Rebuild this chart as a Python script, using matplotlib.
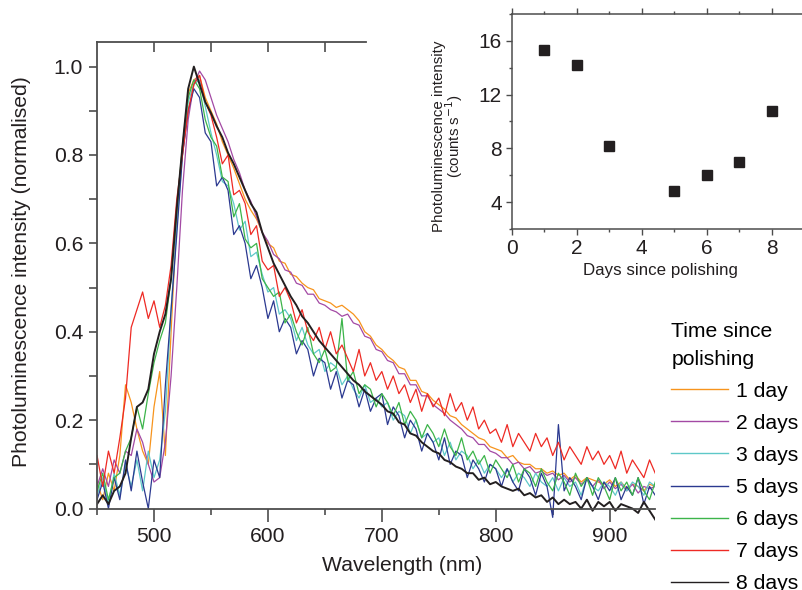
import numpy as np
import matplotlib.pyplot as plt
from matplotlib import font_manager
from matplotlib.ticker import MultipleLocator, FormatStrFormatter

# Longitudes de onda (nm), cada 5 nm
longitudes = np.arange(450, 945, 5)

# Espectros normalizados (450-940 nm), con su ruido aproximado
dia_1 = [0.06, 0.02, 0.08, 0.04, 0.12, 0.28, 0.24, 0.18, 0.13, 0.10,
         0.23, 0.31, 0.12, 0.40, 0.66, 0.82, 0.94, 0.97, 0.98, 0.93,
         0.90, 0.87, 0.83, 0.80, 0.77, 0.735, 0.70, 0.675, 0.655, 0.625,
         0.60, 0.59, 0.56, 0.555, 0.53, 0.525, 0.51, 0.50, 0.495, 0.475,
         0.47, 0.465, 0.455, 0.46, 0.45, 0.44, 0.425, 0.40, 0.39, 0.37,
         0.36, 0.345, 0.335, 0.32, 0.315, 0.29, 0.29, 0.265, 0.26, 0.245,
         0.235, 0.225, 0.21, 0.205, 0.19, 0.18, 0.17, 0.16, 0.155, 0.14,
         0.135, 0.13, 0.115, 0.12, 0.105, 0.10, 0.10, 0.09, 0.09, 0.08,
         0.085, 0.075, 0.08, 0.065, 0.075, 0.06, 0.07, 0.065, 0.06, 0.055,
         0.065, 0.05, 0.06, 0.045, 0.055, 0.05, 0.04, 0.055, 0.05]

dia_2 = [0.05, 0.09, 0.05, 0.11, 0.08, 0.13, 0.12, 0.18, 0.15, 0.10,
         0.06, 0.07, 0.15, 0.30, 0.50, 0.72, 0.88, 0.96, 0.99, 0.97,
         0.93, 0.89, 0.86, 0.83, 0.79, 0.76, 0.72, 0.695, 0.66, 0.625,
         0.605, 0.575, 0.565, 0.54, 0.535, 0.51, 0.505, 0.485, 0.485, 0.465,
         0.46, 0.45, 0.445, 0.435, 0.44, 0.42, 0.415, 0.39, 0.385, 0.36,
         0.355, 0.335, 0.33, 0.305, 0.305, 0.28, 0.28, 0.255, 0.255, 0.235,
         0.225, 0.215, 0.20, 0.19, 0.18, 0.165, 0.16, 0.145, 0.145, 0.13,
         0.125, 0.115, 0.115, 0.10, 0.105, 0.09, 0.095, 0.08, 0.085, 0.075,
         0.08, 0.065, 0.075, 0.06, 0.07, 0.055, 0.065, 0.05, 0.065, 0.045,
         0.06, 0.045, 0.055, 0.04, 0.055, 0.035, 0.05, 0.045, 0.05]

dia_3 = [0.03, 0.07, 0.01, 0.08, 0.03, 0.10, 0.05, 0.11, 0.04, 0.13,
         0.07, 0.11, 0.22, 0.45, 0.64, 0.80, 0.92, 0.96, 0.97, 0.91,
         0.85, 0.80, 0.74, 0.73, 0.69, 0.63, 0.65, 0.57, 0.58, 0.53,
         0.49, 0.50, 0.44, 0.45, 0.43, 0.38, 0.41, 0.37, 0.35, 0.36,
         0.31, 0.33, 0.32, 0.28, 0.30, 0.27, 0.25, 0.28, 0.24, 0.25,
         0.23, 0.24, 0.20, 0.22, 0.21, 0.17, 0.20, 0.16, 0.17, 0.15,
         0.16, 0.12, 0.15, 0.11, 0.13, 0.12, 0.09, 0.11, 0.08, 0.10,
         0.09, 0.07, 0.09, 0.06, 0.08, 0.07, 0.05, 0.08, 0.06, 0.05,
         0.07, 0.04, 0.07, 0.05, 0.06, 0.03, 0.07, 0.05, 0.04, 0.06,
         0.05, 0.03, 0.06, 0.04, 0.06, 0.05, 0.03, 0.06, 0.05]

dia_5 = [0.02, 0.06, 0.00, 0.07, 0.02, 0.11, 0.04, 0.13, 0.06, 0.00,
         0.11, 0.07, 0.28, 0.45, 0.62, 0.80, 0.90, 0.95, 0.93, 0.85,
         0.83, 0.73, 0.75, 0.72, 0.62, 0.64, 0.60, 0.52, 0.55, 0.50,
         0.43, 0.47, 0.40, 0.43, 0.41, 0.35, 0.38, 0.36, 0.30, 0.34,
         0.33, 0.27, 0.31, 0.25, 0.29, 0.28, 0.23, 0.27, 0.22, 0.25,
         0.26, 0.19, 0.23, 0.21, 0.16, 0.20, 0.18, 0.13, 0.17, 0.15,
         0.11, 0.16, 0.10, 0.13, 0.12, 0.07, 0.11, 0.09, 0.06, 0.10,
         0.09, 0.05, 0.09, 0.06, 0.04, 0.09, 0.07, 0.03, 0.08, 0.05,
         -0.02, 0.19, 0.04, 0.07, 0.05, 0.02, 0.07, 0.05, 0.02, 0.06,
         0.04, 0.07, 0.02, 0.05, 0.03, 0.07, 0.01, 0.05, 0.03]

dia_6 = [0.04, 0.08, 0.02, 0.07, 0.08, 0.13, 0.16, 0.23, 0.18, 0.26,
         0.33, 0.38, 0.42, 0.52, 0.68, 0.82, 0.93, 0.97, 0.95, 0.88,
         0.84, 0.82, 0.75, 0.74, 0.66, 0.69, 0.61, 0.59, 0.60, 0.52,
         0.50, 0.48, 0.49, 0.42, 0.44, 0.40, 0.37, 0.41, 0.35, 0.33,
         0.36, 0.31, 0.32, 0.43, 0.29, 0.31, 0.26, 0.28, 0.27, 0.23,
         0.26, 0.24, 0.21, 0.24, 0.19, 0.22, 0.20, 0.16, 0.19, 0.17,
         0.14, 0.18, 0.14, 0.12, 0.16, 0.11, 0.13, 0.10, 0.12, 0.08,
         0.11, 0.09, 0.07, 0.10, 0.06, 0.09, 0.08, 0.05, 0.09, 0.06,
         0.04, 0.08, 0.06, 0.03, 0.08, 0.05, 0.07, 0.03, 0.07, 0.05,
         0.02, 0.07, 0.04, 0.06, 0.03, 0.07, 0.04, 0.02, 0.06]

dia_7 = [0.12, 0.05, 0.13, 0.08, 0.16, 0.25, 0.41, 0.45, 0.49, 0.43,
         0.47, 0.41, 0.46, 0.55, 0.70, 0.80, 0.90, 0.96, 0.98, 0.92,
         0.89, 0.84, 0.78, 0.80, 0.71, 0.72, 0.69, 0.62, 0.64, 0.56,
         0.54, 0.55, 0.48, 0.50, 0.47, 0.42, 0.45, 0.40, 0.38, 0.41,
         0.36, 0.40, 0.35, 0.37, 0.34, 0.31, 0.36, 0.30, 0.33, 0.29,
         0.31, 0.27, 0.30, 0.26, 0.28, 0.24, 0.27, 0.22, 0.26, 0.23,
         0.25, 0.21, 0.26, 0.22, 0.24, 0.20, 0.23, 0.18, 0.20, 0.17,
         0.18, 0.15, 0.19, 0.14, 0.17, 0.15, 0.13, 0.17, 0.14, 0.16,
         0.12, 0.15, 0.11, 0.14, 0.12, 0.10, 0.14, 0.11, 0.13, 0.10,
         0.12, 0.09, 0.13, 0.08, 0.11, 0.09, 0.07, 0.11, 0.08]

dia_8 = [0.01, 0.03, 0.01, 0.04, 0.05, 0.08, 0.16, 0.23, 0.24, 0.27,
         0.35, 0.40, 0.44, 0.52, 0.68, 0.82, 0.95, 1.00, 0.96, 0.92,
         0.895, 0.865, 0.84, 0.805, 0.78, 0.75, 0.72, 0.69, 0.67, 0.625,
         0.59, 0.555, 0.53, 0.505, 0.48, 0.46, 0.435, 0.42, 0.40, 0.38,
         0.365, 0.35, 0.335, 0.32, 0.305, 0.29, 0.28, 0.265, 0.255, 0.245,
         0.235, 0.22, 0.215, 0.195, 0.19, 0.17, 0.165, 0.15, 0.14, 0.13,
         0.125, 0.11, 0.105, 0.095, 0.09, 0.08, 0.08, 0.065, 0.07, 0.055,
         0.06, 0.05, 0.045, 0.04, 0.045, 0.03, 0.035, 0.025, 0.03, 0.015,
         0.025, 0.01, 0.02, 0.01, 0.015, 0.0, 0.02, -0.005, 0.015, 0.005,
         0.015, -0.005, 0.01, 0.005, 0.0, -0.01, 0.015, -0.005, -0.025]

espectros = [dia_1, dia_2, dia_3, dia_5, dia_6, dia_7, dia_8]
etiquetas = ['1 day', '2 days', '3 days', '5 days', '6 days', '7 days', '8 days']
colores = ['#f7941d', '#a349a4', '#5ec8c8', '#2b3990', '#3cb44a', '#ee2a24', '#231f20']

# Datos del recuadro: intensidad absoluta frente a dias
dias_recuadro = [1, 2, 3, 5, 6, 7, 8]
intensidad_recuadro = [15.3, 14.2, 8.2, 4.85, 6.05, 7.0, 10.75]

# Fuente: Arial estirada en el original -> se parece a la version estrecha
nombres = {f.name for f in font_manager.fontManager.ttflist}
if 'Liberation Sans Narrow' in nombres:
    plt.rcParams['font.family'] = 'Liberation Sans Narrow'
    escala = 1.22
else:
    plt.rcParams['font.family'] = 'Liberation Sans'
    escala = 1.0

color_eje = '#4d4d4d'
color_texto = '#231f20'
tam = 15.2 * escala

fig = plt.figure(figsize=(8.02, 5.90), dpi=100)
ax = fig.add_axes([0.121, 0.1156, 0.696, 0.8127])

for valores, etiqueta, color in zip(espectros, etiquetas, colores):
    grosor = 1.4 if etiqueta == '8 days' else 0.9
    ax.plot(longitudes, valores, color=color, lw=grosor, label=etiqueta)

ax.set_xlim(450, 940)
ax.set_ylim(-0.03, 1.055)

# Ejes: solo izquierda, abajo (en y=0) y un trozo de arriba
ax.spines['right'].set_visible(False)
ax.spines['top'].set_visible(False)
ax.spines['bottom'].set_position(('data', 0))
ax.spines['left'].set_bounds(0, 1.055)
for lado in ['left', 'bottom']:
    ax.spines[lado].set_color(color_eje)
    ax.spines[lado].set_linewidth(1.3)

ax.xaxis.set_major_locator(MultipleLocator(100))
ax.xaxis.set_minor_locator(MultipleLocator(50))
ax.yaxis.set_major_locator(MultipleLocator(0.2))
ax.yaxis.set_minor_locator(MultipleLocator(0.1))
ax.yaxis.set_major_formatter(FormatStrFormatter('%.1f'))
ax.tick_params(axis='x', which='major', direction='out', length=9, width=1.2,
               color=color_eje, labelsize=tam, labelcolor=color_texto, pad=4)
ax.tick_params(axis='x', which='minor', direction='out', length=4.5, width=1.2, color=color_eje)
ax.tick_params(axis='y', which='both', direction='out', length=6, width=1.2,
               color=color_eje, labelsize=tam, labelcolor=color_texto, pad=4)

ax.set_xlabel('Wavelength (nm)', fontsize=tam, color=color_texto)
ax.xaxis.set_label_coords(0.547, -0.072)
ax.set_ylabel('Photoluminescence intensity (normalised)', fontsize=tam, color=color_texto)
ax.yaxis.set_label_coords(-0.118, 0.521)

# Trozo del eje superior con marcas hacia dentro
arriba = ax.twiny()
arriba.set_xlim(ax.get_xlim())
arriba.set_xticks([500, 550, 600, 650])
arriba.tick_params(axis='x', direction='in', length=7, width=1.2, color=color_eje, labeltop=False)
for lado in ['left', 'right', 'bottom']:
    arriba.spines[lado].set_visible(False)
arriba.spines['top'].set_bounds(450, 686)
arriba.spines['top'].set_color(color_eje)
arriba.spines['top'].set_linewidth(1.3)

# Leyenda fuera del eje (la ultima entrada queda cortada, como en el original)
manejadores, textos = ax.get_legend_handles_labels()
leyenda = fig.legend(manejadores, textos, loc='upper left', bbox_to_anchor=(0.837, 0.455),
                     frameon=False, title='Time since\npolishing', alignment='left',
                     fontsize=tam, title_fontsize=tam, handlelength=2.7,
                     handletextpad=0.35, labelspacing=0.62, borderpad=0, borderaxespad=0)
leyenda.get_title().set_linespacing(1.6)
for linea in leyenda.get_lines():
    linea.set_linewidth(1.0)

# Recuadro con la intensidad absoluta
rec = fig.add_axes([0.638, 0.6119, 0.3647, 0.3644])
rec.plot(dias_recuadro, intensidad_recuadro, 's', color='#231f20', ms=6.5)
rec.set_xlim(0, 9)
rec.set_ylim(2, 18)
rec.xaxis.set_major_locator(MultipleLocator(2))
rec.xaxis.set_minor_locator(MultipleLocator(1))
rec.yaxis.set_major_locator(MultipleLocator(4))
rec.yaxis.set_minor_locator(MultipleLocator(2))
for lado in rec.spines:
    rec.spines[lado].set_color(color_eje)
    rec.spines[lado].set_linewidth(1.1)
rec.tick_params(which='major', direction='out', length=4, width=1, color=color_eje,
                labelsize=15 * escala, labelcolor=color_texto, pad=3)
rec.tick_params(which='minor', direction='out', length=2, width=1, color=color_eje)
rec.tick_params(axis='x', which='both', top=True)
rec.tick_params(axis='y', which='both', right=True)

rec.set_xlabel('Days since polishing', fontsize=12.2 * escala, color=color_texto)
rec.xaxis.set_label_coords(0.507, -0.158)
rec.set_ylabel('Photoluminescence intensity\n(counts s$^{-1}$)', fontsize=10.9 * escala,
               color=color_texto, linespacing=0.85)
rec.yaxis.set_label_coords(-0.16, 0.433)

fig.savefig('out.png', dpi=100)
